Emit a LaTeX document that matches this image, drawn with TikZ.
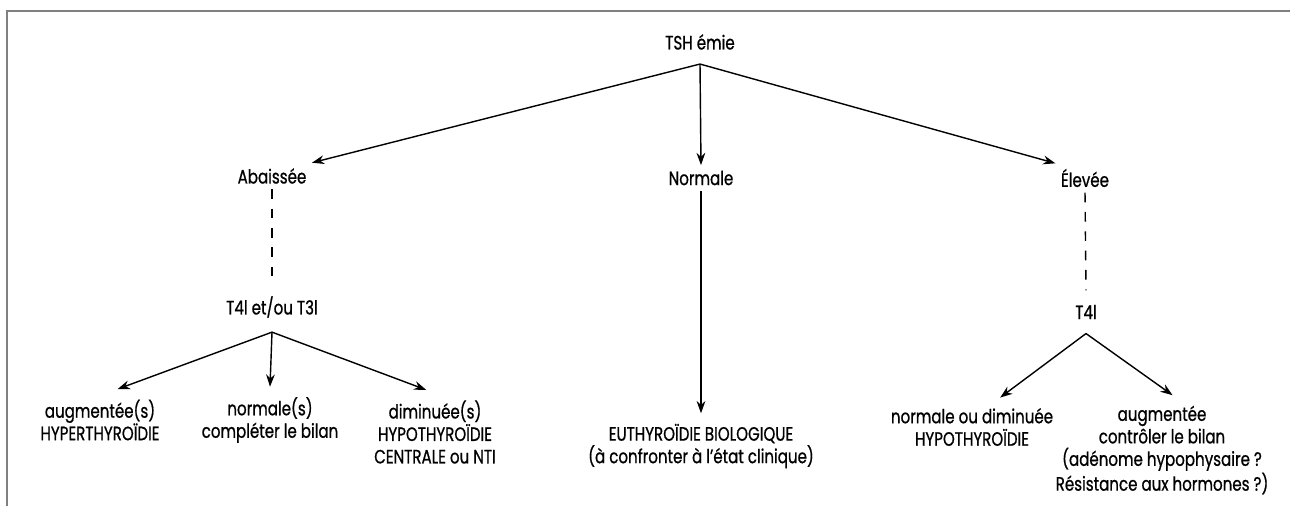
\documentclass[tikz,border=0pt]{standalone}
\usepackage{fontspec}
\setmainfont[FakeStretch=0.78, FakeBold=0.8]{Poppins}
\usetikzlibrary{arrows.meta}

\begin{document}
\begin{tikzpicture}[x=0.02cm, y=-0.02cm,
  lbl/.style={font=\fontsize{11}{12.8}\selectfont, align=center, inner sep=3pt},
  feuille/.style={lbl, outer sep=3pt},
  fleche/.style={-{Stealth[length=7pt, width=5pt]}, line width=0.8pt},
  tiret/.style={line width=0.8pt, dash pattern=on 5.5pt off 5.5pt}]
  \useasboundingbox (0,0) rectangle (1290,506);
  \draw[gray, line width=0.6pt] (1290,11) -- (7,11) -- (7,506);
  \node[lbl, inner ysep=8pt] (tsh) at (700,42) {TSH émie};
  \node[lbl] (abaissee) at (272,176) {Abaissée};
  \node[lbl] (normale) at (701,178) {Normale};
  \node[lbl] (elevee) at (1085,178) {Élevée};
  \node[lbl, inner ysep=8pt] (t3) at (272,307) {T4l et/ou T3l};
  \node[lbl, inner ysep=8pt] (t4) at (1086,312) {T4l};
  \node[feuille] (aug) at (100,420) {augmentée(s)\\HYPERTHYROÏDIE};
  \node[feuille] (norms) at (270,420) {normale(s)\\compléter le bilan};
  \node[feuille] (dim) at (435,432) {diminuée(s)\\HYPOTHYROÏDIE\\CENTRALE ou NTI};
  \node[feuille] (euthy) at (701,446) {EUTHYROÏDIE BIOLOGIQUE\\(à confronter à l’état clinique)};
  \node[feuille] (nod) at (972,427) {normale ou diminuée\\HYPOTHYROÏDIE};
  \node[feuille] (augm) at (1162,450) {augmentée\\contrôler le bilan\\(adénome hypophysaire ?\\Résistance aux hormones ?)};
  \draw[fleche] (tsh.south) -- (abaissee.north east);
  \draw[fleche] (tsh.south) -- (normale.north);
  \draw[fleche] (tsh.south) -- (elevee.north west);
  \draw[fleche] (normale.south) -- (euthy.north);
  \draw[tiret] (abaissee.south) -- (t3.north);
  \draw[tiret] (elevee.south) -- (t4.north);
  \draw[fleche] (t3.south) -- ([xshift=10pt]aug.north);
  \draw[fleche] (t3.south) -- (norms.north);
  \draw[fleche] (t3.south) -- ([xshift=-5pt]dim.north);
  \draw[fleche] (t4.south) -- ([xshift=16pt]nod.north);
  \draw[fleche] (t4.south) -- ([xshift=6pt]augm.north);
\end{tikzpicture}
\end{document}
